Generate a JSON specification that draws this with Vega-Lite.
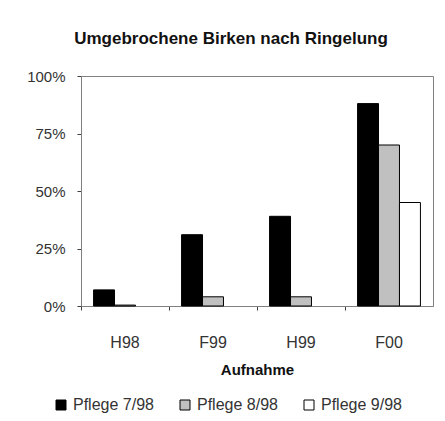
{
  "$schema": "https://vega.github.io/schema/vega-lite/v6.json",
  "autosize": "none",
  "width": 352,
  "height": 230,
  "padding": {"left": 81, "top": 76, "right": 12, "bottom": 115},
  "background": "white",
  "config": {
    "font": "Liberation Sans",
    "view": {"stroke": "#808080", "strokeWidth": 1}
  },
  "title": {
    "text": "Umgebrochene Birken nach Ringelung",
    "font": "Liberation Sans",
    "fontSize": 17,
    "fontWeight": "bold",
    "color": "#111111",
    "anchor": "middle",
    "dx": -26,
    "offset": 21
  },
  "data": {
    "values": [
      {"Aufnahme": "H98", "Pflege": "Pflege 7/98", "value": 0.07},
      {"Aufnahme": "H98", "Pflege": "Pflege 8/98", "value": 0.004},
      {"Aufnahme": "H98", "Pflege": "Pflege 9/98", "value": 0},
      {"Aufnahme": "F99", "Pflege": "Pflege 7/98", "value": 0.31},
      {"Aufnahme": "F99", "Pflege": "Pflege 8/98", "value": 0.04},
      {"Aufnahme": "F99", "Pflege": "Pflege 9/98", "value": 0},
      {"Aufnahme": "H99", "Pflege": "Pflege 7/98", "value": 0.39},
      {"Aufnahme": "H99", "Pflege": "Pflege 8/98", "value": 0.04},
      {"Aufnahme": "H99", "Pflege": "Pflege 9/98", "value": 0},
      {"Aufnahme": "F00", "Pflege": "Pflege 7/98", "value": 0.88},
      {"Aufnahme": "F00", "Pflege": "Pflege 8/98", "value": 0.70},
      {"Aufnahme": "F00", "Pflege": "Pflege 9/98", "value": 0.45}
    ]
  },
  "mark": {"type": "bar", "stroke": "#000000"},
  "encoding": {
    "x": {
      "field": "Aufnahme",
      "type": "nominal",
      "sort": ["H98", "F99", "H99", "F00"],
      "scale": {"paddingInner": 0, "paddingOuter": 0},
      "axis": {
        "title": "Aufnahme",
        "titleFontSize": 15,
        "titleFontWeight": "bold",
        "titleColor": "#111111",
        "titlePadding": 12,
        "labelAngle": 0,
        "labelFontSize": 16,
        "labelColor": "#333333",
        "labelPadding": 24,
        "bandPosition": 0,
        "domainColor": "#808080",
        "tickColor": "#404040",
        "tickSize": 4
      }
    },
    "xOffset": {
      "field": "Pflege",
      "type": "nominal",
      "sort": ["Pflege 7/98", "Pflege 8/98", "Pflege 9/98"],
      "scale": {"paddingInner": 0, "paddingOuter": 0.6}
    },
    "y": {
      "field": "value",
      "type": "quantitative",
      "scale": {"domain": [0, 1]},
      "axis": {
        "title": null,
        "values": [0, 0.25, 0.5, 0.75, 1],
        "format": ".0%",
        "grid": false,
        "labelFontSize": 15,
        "labelColor": "#333333",
        "labelPadding": 12,
        "domainColor": "#808080",
        "tickColor": "#404040",
        "tickSize": 4
      }
    },
    "fill": {
      "field": "Pflege",
      "type": "nominal",
      "scale": {
        "domain": ["Pflege 7/98", "Pflege 8/98", "Pflege 9/98"],
        "range": ["#000000", "#C0C0C0", "#FFFFFF"]
      },
      "legend": {
        "title": null,
        "orient": "none",
        "direction": "horizontal",
        "legendX": -28,
        "legendY": 321,
        "padding": 0,
        "symbolType": "square",
        "symbolSize": 100,
        "symbolStrokeColor": "#000000",
        "symbolStrokeWidth": 1,
        "labelFontSize": 16,
        "labelColor": "#333333",
        "labelOffset": 4,
        "columnPadding": 23
      }
    },
    "strokeWidth": {
      "condition": {"test": "datum.value == 0", "value": 0},
      "value": 1
    }
  }
}
